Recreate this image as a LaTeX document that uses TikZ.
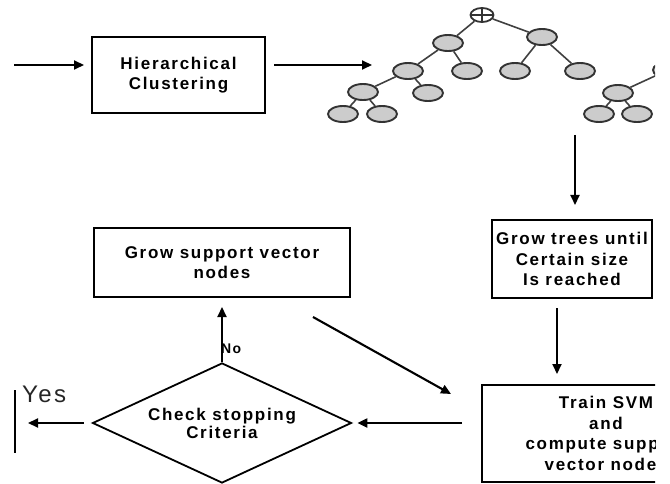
\documentclass[tikz,border=0pt]{standalone}
\usepackage{fontspec}
\setmainfont{Liberation Sans}
\newfontfamily\bx[LetterSpace=10]{Liberation Sans}
\usetikzlibrary{shapes.geometric,arrows.meta,calc}
\begin{document}
\begin{tikzpicture}[x=1pt,y=-1pt,
  box/.style={draw, line width=2pt, inner sep=0, align=center,
    font=\bx\bfseries\fontsize{17}{20.5}\selectfont},
  arr/.style={line width=2.1pt, -{Triangle[length=10pt,width=9pt]}},
  plain/.style={line width=2.1pt},
  leaf/.style={ellipse, draw=black!80, fill=black!20, line width=1.9pt,
    minimum width=30, minimum height=16, inner sep=0},
  tedge/.style={draw=black!75, line width=1.6pt}]
\useasboundingbox (0,0) rectangle (670,484);
\begin{scope}
\clip (0,0) rectangle (655,484);
% boxes
\node[box, minimum width=173, minimum height=76] (hc) at (178.5,75) {Hierarchical\\Clustering};
\node[box, minimum width=256, minimum height=69] (grow) at (222,262.5) {Grow support vector\\nodes};
\node[box, minimum width=160, minimum height=78] (gtree) at (572,259) {Grow trees until\\Certain size\\Is reached};
\node[box, minimum width=248, minimum height=97] (train) at (606,433.5) {Train SVM\\and\\compute support\\vector nodes};
\node[diamond, draw, line width=1.8pt, shape aspect=2.15, inner sep=0,
  minimum width=259, minimum height=120, align=center,
  font=\bx\bfseries\fontsize{17}{18}\selectfont] (dia) at (222,423) {Check stopping\\Criteria};
% tree
\node[ellipse, draw=black!80, fill=white, line width=1.8pt, minimum width=23, minimum height=14, inner sep=0] (root) at (482,15) {};
\draw[black!80, line width=1.4pt] (root.west) -- (root.east) (root.north) -- (root.south);
\node[leaf] (tA) at (448,43) {};
\node[leaf] (tB) at (542,37) {};
\node[leaf] (tC) at (408,71) {};
\node[leaf] (tD) at (467,71) {};
\node[leaf] (tE) at (515,71) {};
\node[leaf] (tF) at (580,71) {};
\node[leaf] (tG) at (363,92) {};
\node[leaf] (tH) at (428,93) {};
\node[leaf] (tI) at (343,114) {};
\node[leaf] (tJ) at (382,114) {};
\node[leaf] (tK) at (618,93) {};
\node[leaf] (tL) at (599,114) {};
\node[leaf] (tM) at (637,114) {};
\node[leaf] (tN) at (668,70) {};
\draw[tedge] (root) -- (tA);
\draw[tedge] (root) -- (tB);
\draw[tedge] (tA) -- (tC);
\draw[tedge] (tA) -- (tD);
\draw[tedge] (tB) -- (tE);
\draw[tedge] (tB) -- (tF);
\draw[tedge] (tC) -- (tG);
\draw[tedge] (tC) -- (tH);
\draw[tedge] (tG) -- (tI);
\draw[tedge] (tG) -- (tJ);
\draw[tedge] (tK) -- (tL);
\draw[tedge] (tK) -- (tM);
\draw[tedge] (tK) -- (tN);
% connectors
\coordinate (in) at (14,65);
\coordinate (hcin) at (92,65);
\coordinate (treein) at (372,65);
\draw[arr, shorten >=8pt] (in) -- (hcin);
\draw[arr, shorten <=8pt] (hcin -| hc.east) -- (treein);
\coordinate (treebot) at (575,135);
\draw[arr, shorten >=14pt] (treebot) -- (treebot |- gtree.north);
\draw[arr, shorten <=9pt, shorten >=10pt] ([xshift=-15pt]gtree.south) -- ([xshift=-15pt]gtree.south |- train.north);
\draw[arr, shorten <=19pt, shorten >=5pt] (train.west |- dia.east) -- (dia.east);
\draw[arr, shorten >=9pt] (dia.north) -- (dia.north |- grow.south);
\draw[arr] ($(grow.south east)+(-38,19)$) -- ($(train.north west)+(-30,10)$);
\coordinate (bartop) at (15,390);
\coordinate (barbot) at (15,453);
\draw[plain] (bartop) -- (barbot);
\draw[arr, shorten <=8pt, shorten >=13pt] (dia.west) -- (dia.west -| bartop);
\node[anchor=base west, inner sep=0, text=black!85, font=\bx\fontsize{24}{26}\selectfont] (yes) at (22,402) {Yes};
\node[anchor=base west, inner sep=0, font=\bx\bfseries\fontsize{14}{16}\selectfont] (no) at (221,353) {No};
\end{scope}
\end{tikzpicture}
\end{document}
